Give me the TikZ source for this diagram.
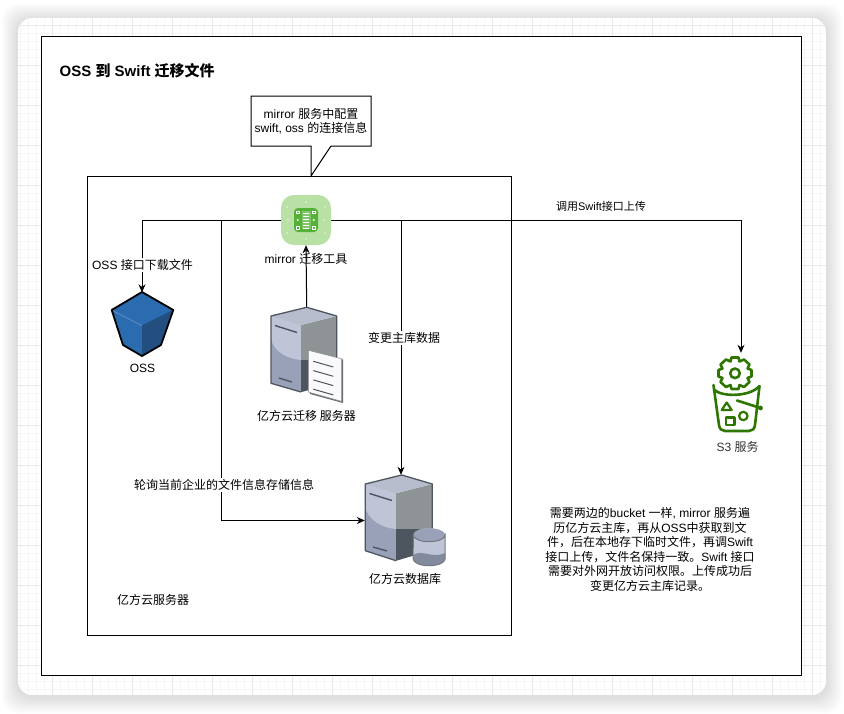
\documentclass[tikz,border=0pt]{standalone}
\usepackage{fontspec}
\setmainfont{Liberation Sans}
\newfontfamily\cjk{Noto Sans CJK SC}
\newcommand{\zh}[1]{{\cjk #1}}
\usetikzlibrary{arrows.meta,calc}
\definecolor{gridminor}{HTML}{F6F6F6}
\definecolor{gridmajor}{HTML}{E9E9E9}
\definecolor{leaf}{HTML}{B9E0A5}
\definecolor{chip}{HTML}{55B238}
\definecolor{bucket}{HTML}{2D7600}
\definecolor{ossa}{HTML}{2B6CB0}
\definecolor{ossb}{HTML}{234F80}
\definecolor{srvl}{HTML}{BFC5D6}
\definecolor{srvm}{HTML}{98A1B8}
\definecolor{srvr}{HTML}{8E9396}
\definecolor{srvd}{HTML}{4D565E}
\tikzset{
  x=1pt,y=-1pt,
  every node/.style={font=\fontsize{12}{14.5}\selectfont,text=black},
  box/.style={draw=black,line width=1pt,fill=white},
  link/.style={draw=black,line width=1pt,-{Stealth[length=8pt,width=7pt]}},
  lbl/.style={inner sep=1pt,align=center},
  lblw/.style={inner sep=1.5pt,align=center,fill=white},
  anchorbox/.style={inner sep=0pt,minimum width=#1},
  bk/.style={draw=bucket,line width=2.6pt,line join=round,line cap=round},
}
\begin{document}
\begin{tikzpicture}
\useasboundingbox (0,0) rectangle (844,713);
\fill[white] (0,0) rectangle (844,713);
% window shadow
\foreach \g in {16,14,12,10,8,6,4,2}{
  \fill[black,opacity=0.016,rounded corners=16] ({18-\g},{18-\g+2}) rectangle ({826+\g},{695+\g+2});
}
% window with grid
\begin{scope}
\path[clip,rounded corners=14] (18,18) rectangle (826,695);
\fill[white] (18,18) rectangle (826,695);
\foreach \i in {0,...,102}{
  \draw[gridminor,line width=0.7pt] ({12+8*\i},18) -- ({12+8*\i},695);
}
\foreach \i in {0,...,85}{
  \draw[gridminor,line width=0.7pt] (18,{25+8*\i-8}) -- (826,{25+8*\i-8});
}
\foreach \i in {0,...,20}{
  \draw[gridmajor,line width=0.7pt] ({52+40*\i-40},18) -- ({52+40*\i-40},695);
}
\foreach \i in {0,...,17}{
  \draw[gridmajor,line width=0.7pt] (18,{25+40*\i}) -- (826,{25+40*\i});
}
\end{scope}
% frames
\draw[box] (41.5,36) rectangle (801.5,675);
\node[lbl,anchor=west,font=\fontsize{15}{17}\selectfont\bfseries] (title) at (58.5,71) {OSS {\cjk\bfseries 到} Swift {\cjk\bfseries 迁移文件}};
\draw[box] (87,176) rectangle (511,635);
% callout
\draw[box,line join=miter] (251,96) -- (371,96) -- (371,146) -- (331,146) -- (311,176) -- (311,146) -- (251,146) -- cycle;
\node[lbl] (note) at (311,121) {mirror \zh{服务中配置}\\swift, oss \zh{的连接信息}};
% anchors for the icons
\node[anchorbox=50pt,minimum height=50pt] (mirror) at (306,220) {};
\node[anchorbox=62pt,minimum height=64pt] (oss) at (142,324.5) {};
\node[anchorbox=72pt,minimum height=94pt] (app) at (306.7,354) {};
\node[anchorbox=67pt,minimum height=91pt] (db) at (401,520.5) {};
\node[anchorbox=40pt,minimum height=80pt] (s3) at (741,393) {};
\coordinate (tapw) at (221,220);
\coordinate (tape) at (401,220);
% connectors
\draw[link] (mirror.west) -| (oss.north);
\draw[link] (tapw) |- ($(db.west)+(-2.5,0)$);
\draw[link] (mirror.east) -| (s3.north);
\draw[link] (tape) -- (tape |- db.north);
\draw[link] (app.north) -- (mirror.south);
% mirror icon
\fill[leaf,rounded corners=13] (281,195) rectangle (331,245);
\foreach \p in {(287,207),(306,202),(325,207),(288,220),(324,220),(306,239),(287,233),(325,233)}{
  \fill[white,opacity=0.7] \p circle (0.8);
}
\fill[chip,rounded corners=4] (294,208) rectangle (318,232);
\fill[chip!75!white] (301.5,211) rectangle (310.5,229);
\foreach \yy in {213,216,219,222,225,228}{
  \draw[white,line width=0.6pt] (303,\yy) -- (309,\yy);
}
\foreach \xx in {296,312}{
  \draw[white,line width=0.4pt] (\xx,211) rectangle ++(3.5,2.5);
  \draw[white,line width=0.4pt] (\xx,226.5) rectangle ++(3.5,2.5);
  \fill[white] ({\xx+1.8},220) circle (1.1);
}
% OSS icon
\fill[ossa] (142,292) -- (173.3,310) -- (161,345) -- (142,356) -- (123,345) -- (111.7,310) -- cycle;
\fill[ossb] (142,325.7) -- (172.3,310.6) -- (160.3,344.3) -- (142,355) -- cycle;
\draw[line width=0.6pt,color=ossa!70!white] (112.5,310.5) -- (142,325.7);
\draw[line width=0.6pt,color=ossb] (142,325.7) -- (172.5,310.5);
\draw[line width=1.8pt,line join=round] (142,292) -- (173.3,310) -- (161,345) -- (142,356) -- (123,345) -- (111.7,310) -- cycle;
% app server
\begin{scope}
\fill[srvm] (271,316) -- (301,325) -- (301,392) -- (271,383.3) -- cycle;
\fill[srvl] (271,316) -- (301,325) -- (301,360) .. controls (288,359) and (274,352) .. (271,339) -- cycle;
\fill[srvr] (301,325) -- (336.7,316) -- (336.7,383) -- (301,392) -- cycle;
\fill[srvd] (301,360) -- (336.7,360) -- (336.7,383) -- (301,392) -- cycle;
\fill[srvl!85!srvr] (271,316) -- (306.7,307.3) -- (336.7,316) -- (301,325) -- cycle;
\draw[srvd,line width=1.3pt,line join=round] (301,392) -- (271,383.3) -- (271,316) -- (306.7,307.3) -- (336.7,316) -- (336.7,383);
\draw[srvd,line width=1.4pt] (275,325.5) -- (297,332.5);
\draw[srvd,line width=1.4pt] (279,378) -- (292,382);
\fill[srvd!85!white] (310,352) -- (343,359.5) -- (343,403) -- (310,394) -- cycle;
\fill[white!92!srvl] (308.3,350.3) -- (341.5,358.7) -- (341.5,401.3) -- (308.3,392) -- cycle;
\draw[black!45,line width=0.5pt] (308.3,350.3) -- (341.5,358.7) -- (341.5,401.3) -- (308.3,392) -- cycle;
\foreach \dy in {0,9.3,18.6,27.9}{
  \draw[srvd,line width=1pt] (313.3,{361.3+\dy}) -- (333.3,{367+\dy});
}
\end{scope}
% database server
\begin{scope}
\fill[srvm] (365.3,484) -- (396,493.3) -- (396,560.7) -- (365.3,550.7) -- cycle;
\fill[srvl] (365.3,484) -- (396,493.3) -- (396,529) .. controls (382,528) and (368,520) .. (365.3,507) -- cycle;
\fill[srvr] (396,493.3) -- (432.3,484) -- (432.3,550) -- (396,560.7) -- cycle;
\fill[srvd] (396,529) -- (432.3,529) -- (432.3,550) -- (396,560.7) -- cycle;
\fill[srvl!85!srvr] (365.3,484) -- (401.7,475) -- (432.3,484) -- (396,493.3) -- cycle;
\draw[srvd,line width=1.3pt,line join=round] (396,560.7) -- (365.3,550.7) -- (365.3,484) -- (401.7,475) -- (432.3,484) -- (432.3,550);
\draw[srvd,line width=1.4pt] (369.5,493.5) -- (392,500.5);
\draw[srvd,line width=1.4pt] (373,547) -- (387,551);
\fill[srvl] (413.3,535) arc[start angle=180,end angle=360,x radius=15.9,y radius=6.7] -- (445,559) arc[start angle=0,end angle=180,x radius=15.9,y radius=6.7] -- cycle;
\fill[srvm] (413.3,535) arc[start angle=180,end angle=0,x radius=15.9,y radius=6.7] arc[start angle=0,end angle=-180,x radius=15.9,y radius=6.7] -- cycle;
\fill[srvm!70!srvd] (413.3,555) .. controls (422,549) and (432,559) .. (445,553) -- (445,559) arc[start angle=0,end angle=180,x radius=15.9,y radius=6.7] -- cycle;
\draw[srvd!80!white,line width=1pt] (413.3,535) arc[start angle=180,end angle=0,x radius=15.9,y radius=6.7] -- (445,559) arc[start angle=0,end angle=180,x radius=15.9,y radius=6.7] -- cycle;
\end{scope}
% s3 icon
\draw[bk] (713.5,385) .. controls (714,390) and (714.5,392) .. (715,396) -- (719,425) .. controls (719.5,429) and (722,431) .. (725,431) -- (749,431) .. controls (752,431) and (754.5,429) .. (755,425) -- (759.5,386);
\draw[bk] (714.5,390) .. controls (722,397) and (750,397) .. (759.5,386);
\draw[bk] (737,400.5) -- (760.5,408);
\fill[bucket] (760.5,408) circle (2.4);
\draw[bk,line width=2.2pt] (726.7,402.5) -- (721.7,410) -- (731.7,410) -- cycle;
\draw[bk,line width=2.2pt] (726,417.5) rectangle (734.5,425);
\draw[bk,line width=2.2pt] (743.3,416) circle (4.2);
\draw[bk,fill=white] (731.5,357.5) -- (738.5,357.5) -- (739.5,361.5) -- (744,359.5) -- (749.5,364.5) -- (747.5,368.5) -- (751.5,370) -- (751.5,376.5) -- (747.5,378) -- (749.5,382) -- (744,387) -- (739.5,385) -- (738.5,389) -- (731.5,389) -- (730.5,385) -- (726,387) -- (720.5,382) -- (722.5,378) -- (718.5,376.5) -- (718.5,370) -- (722.5,368.5) -- (720.5,364.5) -- (726,359.5) -- (730.5,361.5) -- cycle;
\draw[bk] (735,373.3) circle (4.8);
% labels
\node[lblw] (ossdl) at (142.5,265) {OSS \zh{接口下载文件}};
\node[lbl] (mirrorlbl) at (306,258.5) {mirror \zh{迁移工具}};
\node[lbl] (osslbl) at (142.5,368.5) {OSS};
\node[lbl] (applbl) at (306.5,416) {\zh{亿方云迁移 服务器}};
\node[lblw] (chg) at (404,338) {\zh{变更主库数据}};
\node[lblw] (poll) at (224,485) {\zh{轮询当前企业的文件信息存储信息}};
\node[lbl] (dblbl) at (405,578.5) {\zh{亿方云数据库}};
\node[lbl] (host) at (153,600) {\zh{亿方云服务器}};
\node[lbl,font=\fontsize{11}{13}\selectfont] (up) at (601,206) {\zh{调用}Swift\zh{接口上传}};
\node[lbl,text=black!80] (s3lbl) at (737.5,447) {S3 \zh{服务}};
\node[lbl] (desc) at (650,549.5) {\zh{需要两边的}bucket \zh{一样}, mirror \zh{服务遍}\\\zh{历亿方云主库，再从}OSS\zh{中获取到文}\\\zh{件，后在本地存下临时文件，再调}Swift\\\zh{接口上传，文件名保持一致。}Swift \zh{接口}\\\zh{需要对外网开放访问权限。上传成功后}\\\zh{变更亿方云主库记录。}};
\end{tikzpicture}
\end{document}
